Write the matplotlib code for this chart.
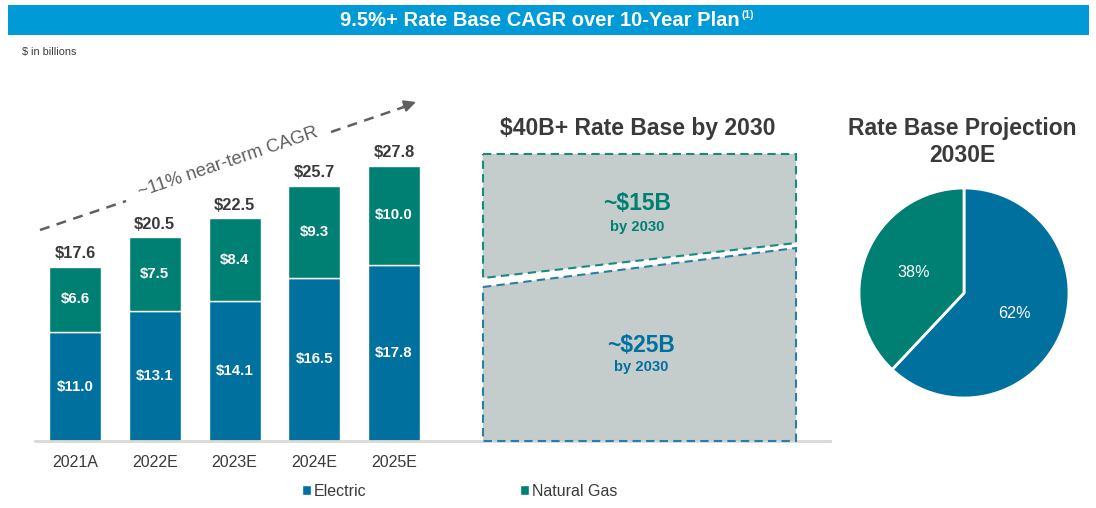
import matplotlib
matplotlib.use("Agg")
import matplotlib.pyplot as plt
from matplotlib.patches import Polygon, Rectangle

plt.rcParams['font.family'] = ['Liberation Sans', 'DejaVu Sans']

# ---- data ----
years = ["2021A", "2022E", "2023E", "2024E", "2025E"]
electric = [11.0, 13.1, 14.1, 16.5, 17.8]
natural_gas = [6.6, 7.5, 8.4, 9.3, 10.0]
total_labels = ["$17.6", "$20.5", "$22.5", "$25.7", "$27.8"]
series_names = ["Electric", "Natural Gas"]
pie_values = [62, 38]
pie_labels = ["62%", "38%"]
gas_2030 = "~$15B"
elec_2030 = "~$25B"

BLUE = "#00709E"
TEAL = "#007F73"
DARK = "#3A3A3A"
BAR_BLUE = "#009AD7"
GREY_BOX = "#C5CDCC"

W, H = 1096, 508
fig = plt.figure(figsize=(W / 100, H / 100), dpi=100)


def fx(px):
    return px / W


def fy(py):
    return 1 - py / H


# ---- bar axes ----
left_px, right_px, base_px, top_px = 35, 830, 441, 101
ax = fig.add_axes([fx(left_px), fy(base_px), fx(right_px - left_px), (base_px - top_px) / H])
step = 79.75
x0 = (left_px - 75) / step
x1 = 4 + (right_px - 394) / step
ax.set_xlim(x0, x1)
ax.set_ylim(0, (base_px - top_px) / 9.9)
xs = list(range(len(years)))
bw = 52 / step
b1 = ax.bar(xs, electric, width=bw, color=BLUE, edgecolor="white", linewidth=1.0, label=series_names[0])
b2 = ax.bar(xs, natural_gas, width=bw, bottom=electric, color=TEAL, edgecolor="white", linewidth=1.0,
            label=series_names[1])
for i in xs:
    ax.text(i, electric[i] / 2, f"${electric[i]:.1f}", ha="center", va="center", color="white",
            fontsize=10.8, fontweight="bold")
    ax.text(i, electric[i] + natural_gas[i] / 2, f"${natural_gas[i]:.1f}", ha="center", va="center",
            color="white", fontsize=10.8, fontweight="bold")
    ax.annotate(total_labels[i], (i, electric[i] + natural_gas[i]), xytext=(0, 4),
                textcoords="offset points", ha="center", va="bottom", color=DARK,
                fontsize=11.8, fontweight="bold")
ax.set_xticks(xs)
ax.set_xticklabels(years, fontsize=11.5, color=DARK)
ax.tick_params(axis="x", length=0, pad=10)
ax.set_yticks([])
for s in ["left", "right", "top"]:
    ax.spines[s].set_visible(False)
ax.spines["bottom"].set_color("#D9D9D9")
ax.spines["bottom"].set_linewidth(2)
ax.patch.set_alpha(0)

fig.legend([b1, b2], series_names, loc="center left", bbox_to_anchor=(fx(302), fy(491)),
           ncol=2, frameon=False, fontsize=11.5, handlelength=0.55, handleheight=0.55,
           handletextpad=0.2, columnspacing=9.6, borderpad=0, borderaxespad=0,
           labelcolor=DARK)

# ---- overlay axes in pixel coordinates ----
ov = fig.add_axes([0, 0, 1, 1], zorder=5)
ov.set_xlim(0, W)
ov.set_ylim(H, 0)
ov.axis("off")
ov.patch.set_alpha(0)

# title bar
ov.add_patch(Rectangle((8, 5), 1081, 30, color=BAR_BLUE, lw=0))
ov.text(340, 20, "9.5%+ Rate Base CAGR over 10-Year Plan", ha="left", va="center",
        color="white", fontsize=14.5, fontweight="bold")
ov.text(742, 15, "(1)", ha="left", va="center", color="white", fontsize=7.5, fontweight="bold")
ov.text(22, 52, "$ in billions", ha="left", va="center", color=DARK, fontsize=7.8)

# CAGR arrow
GR = "#606060"
ov.plot([40, 126], [230, 201], color=GR, lw=1.8, ls=(0, (4, 3)))
ov.plot([331, 404], [132, 107], color=GR, lw=1.8, ls=(0, (4, 3)))
ov.annotate("", xy=(416, 102), xytext=(403, 106.5),
            arrowprops=dict(arrowstyle="-|>,head_length=0.7,head_width=0.35", color=GR, lw=1.5,
                            shrinkA=0, shrinkB=0))
ov.text(228, 162, "~11% near-term CAGR", ha="center", va="center", rotation=18.7,
        rotation_mode="anchor", color=GR, fontsize=13.2)

# middle panel
ov.text(638, 128, "$40B+ Rate Base by 2030", ha="center", va="center", color=DARK,
        fontsize=16.5, fontweight="bold")
top_poly = Polygon([(483, 154), (796, 154), (796, 243), (483, 278)], closed=True,
                   facecolor=GREY_BOX, edgecolor="#1B8A7E", lw=1.5, ls=(0, (4, 2.5)))
bot_poly = Polygon([(483, 287), (796, 248), (796, 441), (483, 441)], closed=True,
                   facecolor=GREY_BOX, edgecolor="#2A7DA8", lw=1.5, ls=(0, (4, 2.5)))
ov.add_patch(top_poly)
ov.add_patch(bot_poly)
ov.text(637, 204, gas_2030, ha="center", va="center", color=TEAL, fontsize=16.5, fontweight="bold")
ov.text(637, 227, "by 2030", ha="center", va="center", color=TEAL, fontsize=10.6, fontweight="bold")
ov.text(641, 345, elec_2030, ha="center", va="center", color=BLUE, fontsize=16.5, fontweight="bold")
ov.text(641, 367, "by 2030", ha="center", va="center", color=BLUE, fontsize=10.6, fontweight="bold")

# pie title
ov.text(962, 128, "Rate Base Projection", ha="center", va="center", color=DARK,
        fontsize=16.5, fontweight="bold")
ov.text(962, 155, "2030E", ha="center", va="center", color=DARK, fontsize=16.5, fontweight="bold")

# ---- pie ----
cx, cy, r = 964, 293, 105
pa = fig.add_axes([fx(cx - r), fy(cy + r), 2 * r / W, 2 * r / H])
wedges, texts, autotexts = pa.pie(pie_values, colors=[BLUE, TEAL], startangle=90, counterclock=False,
                                  wedgeprops=dict(edgecolor="white", linewidth=2),
                                  autopct="%1.0f%%", pctdistance=0.52,
                                  textprops=dict(color="white", fontsize=11.6))
for t, lab in zip(autotexts, pie_labels):
    t.set_text(lab)
pa.set_xlim(-1, 1)
pa.set_ylim(-1, 1)
pa.set_aspect("auto")
pa.axis("off")

fig.savefig("out.png", dpi=100)
